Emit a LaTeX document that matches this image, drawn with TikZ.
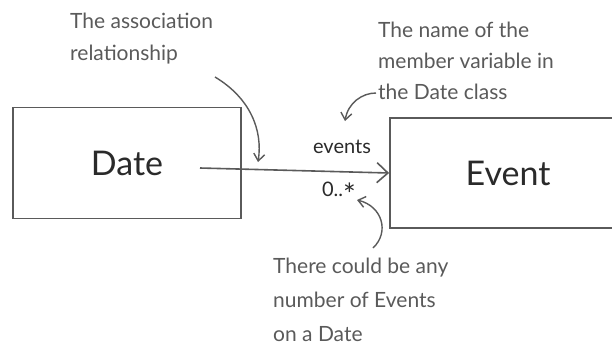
\documentclass[tikz,border=0pt]{standalone}
\usepackage{fontspec}
\setmainfont{Lato}
\usetikzlibrary{arrows.meta}
\definecolor{ink}{HTML}{5A5A5A}
\definecolor{dark}{HTML}{2A2A2A}
\tikzset{
  classbox/.style={draw=ink, line width=1.8pt, rectangle, inner sep=0pt, text=dark, font=\fontsize{34}{36}\selectfont},
  note/.style={text=ink, align=left, anchor=north west, inner sep=0pt, font=\fontsize{21}{31}\selectfont},
  pointer/.style={draw=ink, line width=1.4pt, -{Straight Barb[length=7pt,width=11pt]}},
  assoc/.style={draw=ink, line width=1.6pt, -{Straight Barb[length=11pt,width=20pt]}},
  lbl/.style={text=dark, inner sep=0pt, font=\fontsize{20}{22}\selectfont}
}
\begin{document}
\begin{tikzpicture}[x=1pt,y=-1pt]
\clip (0,0) rectangle (612,346);
\fill[white] (0,0) rectangle (612,346);
% classes
\node[classbox, minimum width=228pt, minimum height=111pt] (date) at (127,163) {Date};
\node[classbox, minimum width=236pt, minimum height=110pt] (event) at (508,173) {Event};
% association
\coordinate (astart) at (200,168);
\draw[assoc] (astart) -- (event.west);
\node[lbl] (roles) at (342,147) {events};
\node[lbl] (mult) at (339,194) {0..\raisebox{-9pt}{\fontsize{30}{30}\selectfont *}};
% notes
\node[note, font=\fontsize{21}{32}\selectfont] (n1) at (70,13) {The association\\relationship};
\node[note] (n2) at (378,22) {The name of the\\member variable in\\the Date class};
\node[note, font=\fontsize{21}{34}\selectfont] (n3) at (273,258) {There could be any\\number of Events\\on a Date};
% pointers
\coordinate (p1s) at (215,77);
\coordinate (p1e) at (258,162);
\draw[pointer] (p1s) .. controls (250,98) and (263,130) .. (p1e);
\coordinate (p2s) at (376,93);
\coordinate (p2e) at (345,121);
\draw[pointer] (p2s) .. controls (362,93) and (348,103) .. (p2e);
\coordinate (p3s) at (373,248);
\coordinate (p3e) at (357,200);
\draw[pointer] (p3s) .. controls (390,232) and (382,206) .. (p3e);
\end{tikzpicture}
\end{document}
